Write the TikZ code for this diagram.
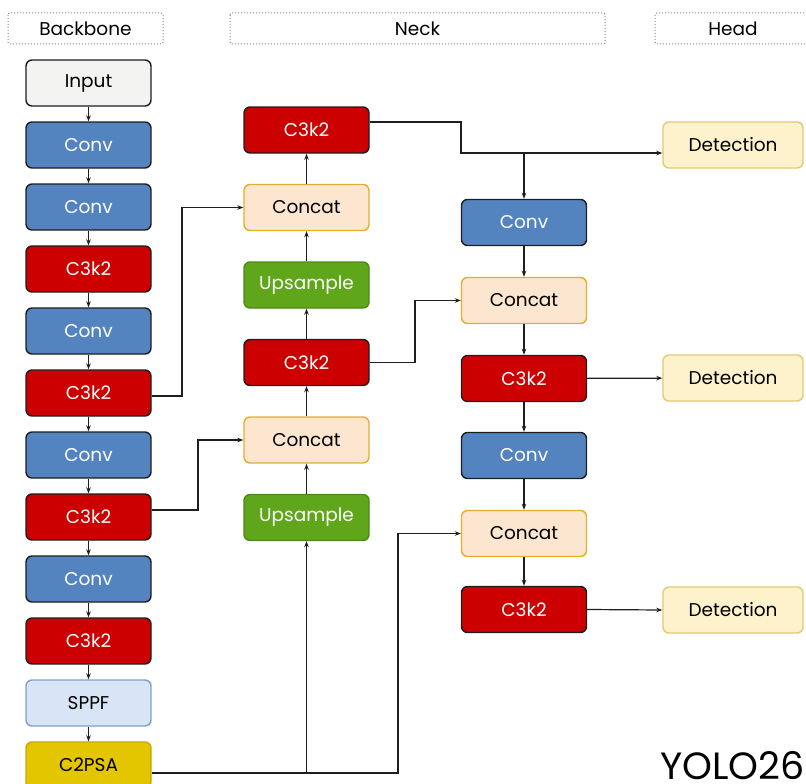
\documentclass[tikz,border=0pt]{standalone}
\usepackage{fontspec}
\setmainfont{Poppins}
\usetikzlibrary{arrows.meta,calc}
\definecolor{lnc}{HTML}{1E1E1E}
\definecolor{inputf}{HTML}{F3F3F1}
\definecolor{convf}{HTML}{5384BF}
\definecolor{c3f}{HTML}{CC0000}
\definecolor{catf}{HTML}{FDE6CF}
\definecolor{catd}{HTML}{E2AE32}
\definecolor{upf}{HTML}{60A61B}
\definecolor{upd}{HTML}{4C8A15}
\definecolor{detf}{HTML}{FEF2CD}
\definecolor{detd}{HTML}{E3C875}
\definecolor{sppff}{HTML}{D7E5F7}
\definecolor{sppfd}{HTML}{7F9FCA}
\definecolor{psaf}{HTML}{E3C500}
\definecolor{psad}{HTML}{C8A800}
\definecolor{hdr}{HTML}{8A8A8A}
\tikzset{
  blk/.style={rounded corners=6pt, line width=1.4pt, minimum width=125pt, minimum height=46pt, inner sep=0pt, font=\fontsize{18.5}{22}\selectfont},
  inputbox/.style={blk, fill=inputf, draw=lnc, text=black},
  convbox/.style={blk, fill=convf, draw=lnc, text=white},
  cthree/.style={blk, fill=c3f, draw=lnc, text=white},
  catbox/.style={blk, fill=catf, draw=catd, text=black},
  upbox/.style={blk, fill=upf, draw=upd, text=white},
  detbox/.style={blk, fill=detf, draw=detd, text=black, minimum width=140pt},
  sppfbox/.style={blk, fill=sppff, draw=sppfd, text=black},
  psabox/.style={blk, fill=psaf, draw=psad, text=black},
  hdrbox/.style={draw=hdr, dotted, line width=1pt, rounded corners=2pt},
  hdrtext/.style={font=\fontsize{18.5}{22}\selectfont, text=black},
  arr/.style={draw=lnc, line width=1.2pt, -{Stealth[length=6pt,width=4.5pt]}},
  ln/.style={draw=lnc, line width=1.2pt}
}
\begin{document}
\begin{tikzpicture}[x=1pt,y=-1pt]
\useasboundingbox (0,0) rectangle (806,784);
% headers
\draw[hdrbox] (8,13) rectangle (163,44);
\draw[hdrbox] (230,13) rectangle (605,44);
\draw[hdrbox] (655,13) rectangle (815,44);
\node[hdrtext] (hb) at (85.5,28.5) {Backbone};
\node[hdrtext] (hn) at (417.5,28.5) {Neck};
\node[hdrtext] (hh) at (733,28.5) {Head};
% backbone
\node[inputbox] (b1) at (88.5,83) {Input};
\node[convbox] (b2) at (88.5,145) {Conv};
\node[convbox] (b3) at (88.5,207) {Conv};
\node[cthree] (b4) at (88.5,269) {C3k2};
\node[convbox] (b5) at (88.5,331) {Conv};
\node[cthree] (b6) at (88.5,393) {C3k2};
\node[convbox] (b7) at (88.5,455) {Conv};
\node[cthree] (b8) at (88.5,517) {C3k2};
\node[convbox] (b9) at (88.5,579) {Conv};
\node[cthree] (b10) at (88.5,641) {C3k2};
\node[sppfbox] (b11) at (88.5,703) {SPPF};
\node[psabox] (b12) at (88.5,765) {C2PSA};
\foreach \i/\j in {1/2,2/3,3/4,4/5,5/6,6/7,7/8,8/9,9/10,10/11,11/12}
  \draw[arr] (b\i) -- (b\j);
% neck column 1
\node[cthree] (n1) at (306.5,130) {C3k2};
\node[catbox] (n2) at (306.5,207.5) {Concat};
\node[upbox] (n3) at (306.5,285) {Upsample};
\node[cthree] (n4) at (306.5,362.5) {C3k2};
\node[catbox] (n5) at (306.5,440) {Concat};
\node[upbox] (n6) at (306.5,517.5) {Upsample};
\draw[arr] (n6) -- (n5);
\draw[arr] (n5) -- (n4);
\draw[arr] (n4) -- (n3);
\draw[arr] (n3) -- (n2);
\draw[arr] (n2) -- (n1);
% neck column 2
\node[convbox] (m1) at (524,222.5) {Conv};
\node[catbox] (m2) at (524,300.5) {Concat};
\node[cthree] (m3) at (524,378.5) {C3k2};
\node[convbox] (m4) at (524,455.5) {Conv};
\node[catbox] (m5) at (524,533.5) {Concat};
\node[cthree] (m6) at (524,609.5) {C3k2};
\draw[arr] (m1) -- (m2);
\draw[arr] (m2) -- (m3);
\draw[arr] (m3) -- (m4);
\draw[arr] (m4) -- (m5);
\draw[arr] (m5) -- (m6);
% head
\node[detbox] (d1) at (733,145) {Detection};
\node[detbox] (d2) at (733,378) {Detection};
\node[detbox] (d3) at (733,610) {Detection};
\draw[arr] (m3) -- (d2);
\draw[arr] (m6.east) -- (d3.west);
% skip connections
\coordinate (j1) at (461,153);
\draw[arr] ([yshift=8pt]n1.east) -| (j1) -- (j1 -| d1.west);
\draw[arr] (j1 -| m1.north) -- (m1.north);
\coordinate (k1) at (182,0);
\draw[arr] ([yshift=-3pt]b6.east) -| (k1 |- n2.west) -- (n2.west);
\coordinate (k2) at (198,0);
\draw[arr] ([yshift=7pt]b8.east) -| (k2 |- n5.west) -- (n5.west);
\coordinate (k3) at (415,0);
\draw[arr] (n4.east) -| (k3 |- m2.west) -- (m2.west);
\coordinate (k4) at (398,773);
\draw[arr] ([yshift=-8pt]b12.east) -- (k4) |- (m5.west);
\draw[arr] (k4 -| n6.south) -- (n6.south);
% title
\node[anchor=base east, inner sep=0pt, font=\fontsize{38}{42}\selectfont] (ttl) at (805,779) {YOLO26};
\end{tikzpicture}
\end{document}
